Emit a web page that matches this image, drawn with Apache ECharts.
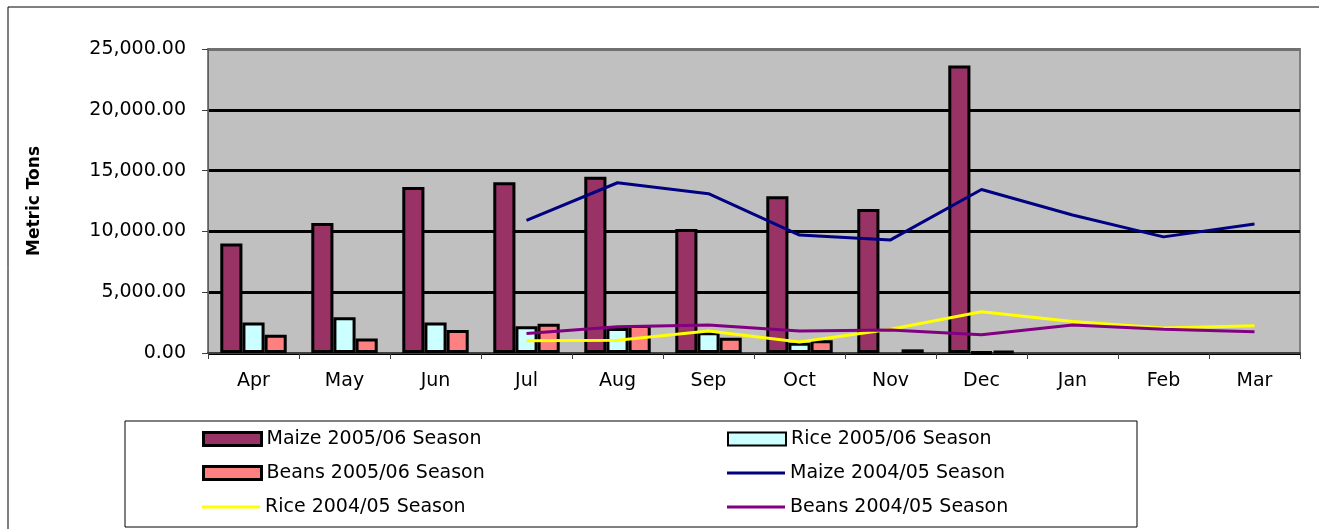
<!DOCTYPE html>
<html>
<head>
    <meta charset="utf-8">
    <title>Metric Tons</title>
    <script src="https://cdn.jsdelivr.net/npm/echarts@6/dist/echarts.min.js"></script>
    <style>
        body { margin: 0; background: #fff; }
    </style>
</head>
<body>
<div id="main" style="width: 1319px;height:529px;"></div>
<script type="text/javascript">
    // data
    var months = ['Apr', 'May', 'Jun', 'Jul', 'Aug', 'Sep', 'Oct', 'Nov', 'Dec', 'Jan', 'Feb', 'Mar'];
    var maize0506 = [9000, 10700, 13650, 14050, 14500, 10200, 12900, 11850, 23650, null, null, null];
    var rice0506 = [2500, 2950, 2500, 2200, 2050, 1700, 850, null, 100, null, null, null];
    var beans0506 = [1500, 1200, 1900, 2400, 2300, 1250, 1050, 300, 150, null, null, null];
    var maize0405 = [null, null, null, 10900, 14000, 13100, 9700, 9300, 13450, 11350, 9550, 10600];
    var rice0405 = [null, null, null, 1000, 1050, 1800, 900, 1950, 3400, 2600, 2050, 2250];
    var beans0405 = [null, null, null, 1600, 2150, 2300, 1800, 1900, 1500, 2300, 1950, 1750];
    var yTicks = [0, 5000, 10000, 15000, 20000, 25000];

    var font = 'DejaVu Sans';

    function fmt(v) {
        var s = v.toFixed(2);
        var parts = s.split('.');
        parts[0] = parts[0].replace(/\B(?=(\d{3})+(?!\d))/g, ',');
        return parts.join('.');
    }

    function bar(name, color, values) {
        return {
            name: name,
            type: 'bar',
            data: values,
            barGap: '0%',
            barCategoryGap: '27%',
            itemStyle: {color: color, borderColor: '#000', borderWidth: 3},
            z: 2
        };
    }

    function line(name, color, values) {
        return {
            name: name,
            type: 'line',
            data: values,
            symbol: 'none',
            lineStyle: {color: color, width: 3},
            itemStyle: {color: color},
            z: 5
        };
    }

    var series = [
        bar('Maize 2005/06 Season', '#993366', maize0506),
        bar('Rice 2005/06 Season', '#CCFFFF', rice0506),
        bar('Beans 2005/06 Season', '#FF8080', beans0506),
        line('Maize 2004/05 Season', '#000080', maize0405),
        line('Rice 2004/05 Season', '#FFFF00', rice0405),
        line('Beans 2004/05 Season', '#800080', beans0405)
    ];

    // one legend per entry, two columns, three rows
    var legendCols = [197, 722];
    var legendRows = [437, 471, 505];
    var legends = series.map(function (s, i) {
        var isLine = s.type === 'line';
        var h = isLine ? 3 : 13;
        return {
            data: [{
                name: s.name,
                icon: 'rect',
                itemStyle: isLine ? {color: s.lineStyle.color, borderWidth: 0}
                    : {color: s.itemStyle.color, borderColor: '#000', borderWidth: i === 1 ? 2 : 3}
            }],
            left: legendCols[i % 2],
            top: legendRows[Math.floor(i / 2)] - 14,
            height: 22,
            itemWidth: 58,
            itemHeight: h,
            selectedMode: false,
            textStyle: {fontFamily: font, fontSize: 19, color: '#000', lineHeight: 22}
        };
    });

    var myChart = echarts.init(document.getElementById('main'));
    var option = {
        animation: false,
        backgroundColor: '#fff',
        legend: legends,
        grid: {
            left: 208, top: 49, width: 1092, height: 304,
            show: true,
            backgroundColor: '#C0C0C0',
            borderColor: '#808080',
            borderWidth: 2
        },
        xAxis: {
            type: 'category',
            data: months,
            axisLine: {lineStyle: {color: '#404040', width: 2}},
            axisTick: {show: true, length: 6, lineStyle: {color: '#404040'}},
            axisLabel: {fontFamily: font, fontSize: 19, color: '#000', margin: 19}
        },
        yAxis: {
            type: 'value',
            min: yTicks[0],
            max: yTicks[yTicks.length - 1],
            interval: yTicks[1] - yTicks[0],
            name: 'Metric Tons',
            nameLocation: 'middle',
            nameGap: 165,
            nameTextStyle: {fontFamily: font, fontWeight: 'bold', fontSize: 17, color: '#000'},
            axisLine: {show: true, lineStyle: {color: '#606060', width: 1}},
            axisTick: {show: true, length: 6, lineStyle: {color: '#404040'}},
            axisLabel: {fontFamily: font, fontSize: 19, color: '#000', margin: 22, formatter: fmt},
            splitLine: {lineStyle: {color: ['#000', '#000', '#000', '#000', '#000', '#707070'], width: 3}}
        },
        graphic: [
            {type: 'rect', shape: {x: 8, y: 7, width: 1330, height: 540},
                style: {fill: null, stroke: '#000', lineWidth: 1}, silent: true},
            {type: 'rect', shape: {x: 125, y: 421, width: 1012, height: 106},
                style: {fill: null, stroke: '#000', lineWidth: 1}, silent: true}
        ],
        series: series
    };
    myChart.setOption(option);
</script>
</body>
</html>
